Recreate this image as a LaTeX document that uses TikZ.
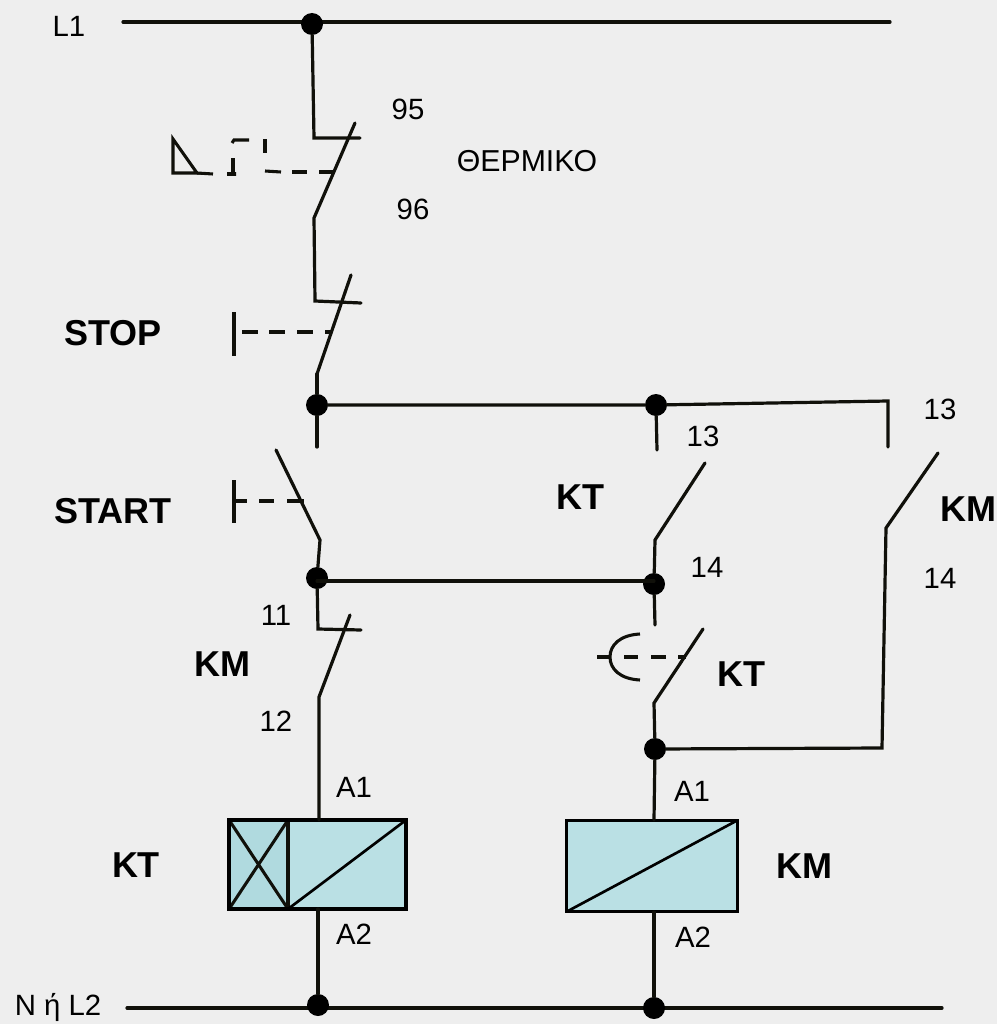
\documentclass[tikz,border=0pt]{standalone}
\usepackage{fontspec}
\setmainfont{Liberation Sans}
\definecolor{bgc}{HTML}{EEEEEE}
\definecolor{coilc}{HTML}{BAE0E4}
\definecolor{coild}{HTML}{B0DADF}
\definecolor{wirec}{HTML}{10100A}
\begin{document}
\begin{tikzpicture}[x=0.75pt,y=-0.75pt,
  wire/.style={draw=wirec,line width=2.4pt,line cap=round,line join=miter},
  mech/.style={draw=wirec,line width=2.3pt},
  junction/.style={circle,fill=black,draw=none,minimum size=16.5pt,inner sep=0pt},
  coilbox/.style={draw=black,line width=2.6pt,fill=coilc,rectangle,inner sep=0pt,outer sep=0pt},
  num/.style={font=\fontsize{22}{24}\selectfont,text=black,inner sep=0pt},
  tag/.style={font=\fontsize{27}{30}\selectfont\bfseries,text=black,inner sep=0pt}]
\useasboundingbox[fill=bgc] (0,0) rectangle (997,1024);

% power rails
\coordinate (l1a) at (123,22);
\coordinate (l1b) at (890,22);
\coordinate (l2a) at (127,1008);
\coordinate (l2b) at (942,1008);
\draw[wire] (l1a) -- (l1b);
\draw[wire] (l2a) -- (l2b);

% left branch points
\coordinate (a1) at (314,138);
\coordinate (a2) at (360,138);
\coordinate (a3) at (355,123);
\coordinate (a4) at (314,218);
\coordinate (b1) at (315,301);
\coordinate (b1r) at (361,303);
\coordinate (b3) at (351,275);
\coordinate (b4) at (317,374);
\coordinate (c0) at (317,447);
\coordinate (s1) at (276,450);
\coordinate (s2) at (320,540);
\coordinate (d1) at (318,629);
\coordinate (d2) at (361,630);
\coordinate (d3) at (350,615);
\coordinate (d4) at (319,697);
\coordinate (h1) at (317,581);
\coordinate (h2) at (654,581);
% middle branch
\coordinate (m0) at (657,450);
\coordinate (m1) at (705,463);
\coordinate (m2) at (655,540);
\coordinate (m3) at (655,625);
\coordinate (n1) at (703,629);
\coordinate (n2) at (654,703);
% right branch
\coordinate (r0) at (888,401);
\coordinate (r1) at (888,447);
\coordinate (r2) at (938,453);
\coordinate (r3) at (886,528);
\coordinate (r4) at (882,748);

% coils
\node[coilbox,minimum width=132.5pt,minimum height=66.5pt] (kt) at (317.5,864.5) {};
\node[coilbox,minimum width=128pt,minimum height=68.5pt] (km) at (652,866) {};
\fill[coild] (kt.north west) rectangle (288,909);
\draw[mech] (kt.north west) -- (288,909) (kt.south west) -- (288,820);
\draw[mech] (288,820) -- (288,909);
\draw[line width=2pt,draw=black] (288,909) -- (kt.north east);
\draw[line width=2pt,draw=black] (km.south west) -- (km.north east);
\draw[draw=black,line width=2.6pt] (kt.north west) rectangle (kt.south east);

% junctions
\node[junction] (j1) at (312,24) {};
\node[junction] (j2) at (317,405) {};
\node[junction] (j3) at (656,405) {};
\node[junction] (j4) at (317,578) {};
\node[junction] (j5) at (654,584) {};
\node[junction] (j6) at (655,749) {};
\node[junction] (j7) at (318,1005) {};
\node[junction] (j8) at (654,1008) {};

% left branch
\draw[wire] (j1) -- (a1) -- (a2);
\draw[wire] (a3) -- (a4) -- (b1) -- (b1r);
\draw[wire] (b3) -- (b4);
\draw[wire] (b4) -- (j2) -- (c0);
\draw[wire] (s1) -- (s2) -- (j4) -- (d1) -- (d2);
\draw[wire] (d3) -- (d4) -- (319,820);
\draw[wire] (318,909) -- (j7);

% horizontals
\draw[wire] (j2) -- (j3) -- (r0) -- (r1);
\draw[wire] (h1) -- (h2);

% middle branch
\draw[wire] (j3) -- (m0);
\draw[wire] (m1) -- (m2) -- (j5) -- (m3);
\draw[wire] (n1) -- (n2) -- (j6) -- (654,820);
\draw[wire] (654,912) -- (j8);

% right branch
\draw[wire] (j6) -- (r4) -- (r3) -- (r2);

% thermal symbol
\draw[mech,line join=miter] (173,139) -- (173,173) -- (197,173) -- cycle;
\draw[mech] (197,173) -- (213,174);
\draw[mech] (227,174) -- (236,174) -- (233,174) -- (233,158);
\draw[mech] (232,143) -- (234,140) -- (249,140);
\draw[mech] (265,139) -- (265,153);
\draw[mech] (265,171) -- (281,172);
\draw[mech] (292,172) -- (307,172);
\draw[mech] (319,172) -- (333,172);

% stop
\draw[mech] (234,312) -- (234,356);
\draw[mech] (242,332) -- (258,332) (269,332) -- (285,332) (297,332) -- (313,332) (325,332) -- (332,332);
% start
\draw[mech] (234,480) -- (234,523);
\draw[mech] (234,501) -- (247,501) (259,501) -- (274,501) (287,501) -- (304,501);
% timed contact
\draw[mech] (640,634) .. controls (620,635) and (610,645) .. (610,657) .. controls (610,669) and (620,679) .. (640,680);
\draw[mech] (597,657) -- (610,657);
\draw[mech] (624,657) -- (638,657) (651,657) -- (666,657) (678,657) -- (686,657);

% labels
\node[num] (tL1) at (69,26) {L1};
\node[num] (t95) at (408,109) {95};
\node[num] (t96) at (413,209) {96};
\node[font=\fontsize{22.7}{24}\selectfont,inner sep=0pt] (tth) at (527,161) {ΘΕΡΜΙΚΟ};
\node[tag] (tstop) at (113,333) {STOP};
\node[tag] (tstart) at (113,511) {START};
\node[tag] (tkt1) at (580,497) {KT};
\node[tag] (tkm1) at (968,509) {KM};
\node[num] (t13a) at (703,436) {13};
\node[num] (t13b) at (940,409) {13};
\node[num] (t14a) at (707,567) {14};
\node[num] (t14b) at (940,578) {14};
\node[num] (t11) at (276,615) {11};
\node[tag] (tkm2) at (222,664) {KM};
\node[num] (t12) at (276,721) {12};
\node[tag] (tkt2) at (741,674) {KT};
\node[num] (ta1l) at (354,787) {A1};
\node[num] (ta1r) at (692,791) {A1};
\node[tag] (tkt3) at (136,865) {KT};
\node[tag] (tkm3) at (804,866) {KM};
\node[num] (ta2l) at (354,934) {A2};
\node[num] (ta2r) at (693,937) {A2};
\node[num] (tl2) at (58,1007) {N ή L2};
\end{tikzpicture}
\end{document}
